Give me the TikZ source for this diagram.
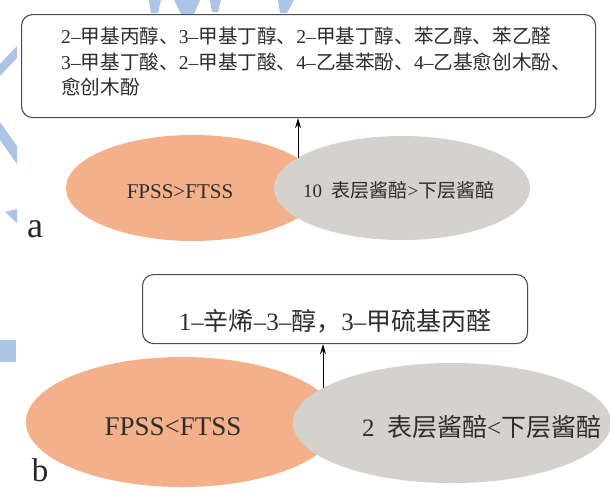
\documentclass[tikz,border=0pt]{standalone}
\usepackage{fontspec}
\setmainfont{Liberation Serif}
\newfontfamily\cjk{Noto Sans CJK SC}
\usetikzlibrary{arrows.meta,shapes.geometric}
\definecolor{orangeF}{RGB}{244,176,138}
\definecolor{grayF}{RGB}{213,209,205}
\definecolor{wmblue}{RGB}{172,196,230}
\definecolor{txt}{RGB}{45,45,45}
\newcommand{\zh}[1]{{\cjk #1}}
\newcommand{\fs}[2]{\fontsize{#1}{#2}\selectfont}
\tikzset{
  labbox/.style={draw=black!70, line width=1.1pt, rounded corners=11pt, fill=white, inner sep=0pt},
  oval/.style={ellipse, inner sep=0pt, draw=none},
  txtnode/.style={inner sep=0pt, text=txt},
  uparrow/.style={draw=black, line width=1pt, -{Stealth[length=10pt,width=6pt]}},
  wm/.style={fill=wmblue, draw=none}
}
\begin{document}
\begin{tikzpicture}[x=1pt,y=-1pt]
\useasboundingbox (0,0) rectangle (610,488);
\fill[white] (0,0) rectangle (610,488);
% watermark shapes
\fill[wm] (149,0) -- (161,0) -- (158,13) -- (151,13) -- cycle;
\fill[wm] (174,0) -- (200,0) -- (194,14) -- (181,14) -- cycle;
\fill[wm] (210,0) -- (221,0) -- (218,12) -- (212,12) -- cycle;
\fill[wm] (278,0) -- (294,0) -- (287,13) -- (280,13) -- cycle;
\fill[wm] (17,46) -- (17,58) -- (0,76) -- (0,64) -- cycle;
\fill[wm] (0,122) -- (17,146) -- (17,164) -- (0,140) -- cycle;
\fill[wm] (5,212) -- (17,209) -- (17,223) -- cycle;
\fill[wm] (0,340) rectangle (16,362);

% ---- panel a ----
\node[labbox, anchor=north west, minimum width=574pt, minimum height=103pt] (boxA) at (21,14) {};
\node[txtnode, anchor=north west, align=left, font=\fs{19.6}{22.5}] (txtA) at (61,27)
  {2–\zh{甲基丙醇、}3–\zh{甲基丁醇、}2–\zh{甲基丁醇、苯乙醇、苯乙醛}\\[3pt]
   3–\zh{甲基丁酸、}2–\zh{甲基丁酸、}4–\zh{乙基苯酚、}4–\zh{乙基愈创木酚、}\\[3pt]
   \zh{愈创木酚}};
\node[oval, fill=orangeF, minimum width=254pt, minimum height=106pt] (orA) at (193,188) {};
\node[oval, fill=grayF, minimum width=256pt, minimum height=104pt] (grA) at (402,188) {};
\node[txtnode, font=\fs{21}{25}] (fpA) at (180,192) {FPSS>FTSS};
\node[txtnode, anchor=west, font=\fs{19}{23}] (cmpA) at (303,190) {10\ \ \zh{表层酱醅}>\zh{下层酱醅}};
\coordinate (sA) at (298,158);
\draw[uparrow] (sA) -- (sA |- boxA.south);
\node[txtnode, anchor=base, font=\fs{36}{40}, text=black!85] (la) at (35,237) {a};

% ---- panel b ----
\node[labbox, anchor=north west, minimum width=385pt, minimum height=69pt] (boxB) at (142,274) {};
\node[txtnode, font=\fs{25}{30}] (txtB) at (335,321) {1–\zh{辛烯}–3–\zh{醇，}3–\zh{甲硫基丙醛}};
\node[oval, fill=orangeF, minimum width=312pt, minimum height=130pt] (orB) at (182,422) {};
\node[oval, fill=grayF, minimum width=318pt, minimum height=120pt] (grB) at (452,423) {};
\node[txtnode, font=\fs{27}{32}] (fpB) at (173,427) {FPSS<FTSS};
\node[txtnode, anchor=west, font=\fs{25}{30}] (cmpB) at (362,427) {2\ \ \zh{表层酱醅}<\zh{下层酱醅}};
\coordinate (sB) at (323,388);
\draw[uparrow] (sB) -- (sB |- boxB.south);
\node[txtnode, anchor=base, font=\fs{33}{37}, text=black!85] (lb) at (40,481) {b};
\end{tikzpicture}
\end{document}
